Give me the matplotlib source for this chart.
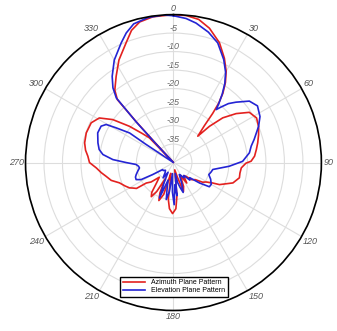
import numpy as np
import matplotlib.pyplot as plt

plt.rcParams['font.family'] = ['Liberation Sans', 'DejaVu Sans']

# Azimuth plane pattern (angle in degrees, gain in dB)
az_deg = [0, 5, 10, 15, 21, 26, 30, 33, 35.5, 37.3, 38.6, 40, 42.7, 44.8, 47.8, 52, 56.5,
          61.8, 67, 72, 76.8, 81, 85.5, 89, 90.5, 94.5, 99, 103, 108.9, 115.6, 118,
          121, 124, 128, 133, 138, 142, 147, 152, 157, 161, 165, 170, 174, 177, 181,
          185, 188, 191, 194, 197, 201, 204, 207, 210, 213, 216, 220, 224, 229, 233,
          235, 238, 240, 244, 249.4, 254, 258.5, 262, 266, 270, 274.2, 278, 282.5,
          288.8, 295.8, 301, 305.3, 309.5, 313, 315.8, 316.8, 317.2, 317.6, 318.3,
          321, 326.4, 332, 338.4, 342.4, 346.5, 352, 360]
az_db = [0, -0.1, -0.7, -2.4, -5.3, -8.6, -11.5, -14.2, -17, -19.8, -23, -27, -30.3,
         -26.2, -22, -18.5, -15.4, -14.5, -15, -15.8, -16.6, -17.3, -18, -19, -20.4,
         -21.6, -21.8, -21.7, -23, -26.2, -28.4, -29.8, -30.5, -32.5, -33.2, -35,
         -35.5, -33.4, -36, -33, -31.7, -36, -38, -31, -27.5, -26.2, -27.5, -30, -36,
         -37, -31, -29, -31, -35, -31, -29, -30, -33, -34.5, -32, -30.8, -27.8, -27,
         -26.3, -25.5, -24.4, -22.5, -21.4, -20.3, -19.1, -17.3, -16.8, -16, -15.4,
         -15.1, -15.3, -16.6, -19.9, -24.6, -28.5, -30.7, -40, -33, -25.3, -17.2,
         -14.8, -12, -8.6, -5.2, -2.5, -0.9, -0.2, 0]

# Elevation plane pattern
el_deg = [0, 5, 9.2, 15, 20.3, 26, 30, 33, 35.5, 37.5, 38.9, 40.5, 43, 46, 51, 56, 62, 67, 74,
          78, 82.7, 89, 93.8, 100, 104, 108.8, 114, 120, 124, 128, 133, 137, 141,
          146, 150, 154, 158, 162, 165, 168, 171, 174, 176.5, 179, 182, 185, 188,
          191, 194, 197, 201.6, 205, 209, 214, 220, 226, 232, 237, 240, 242.2,
          245.5, 249, 252, 256, 261, 264, 267, 270, 272.8, 276.5, 280, 284.6, 291.4,
          296.7, 299.5, 301.2, 304, 303.5, 303.5, 316.5, 317, 317.5, 318.5, 321,
          324.6, 330, 336.4, 340, 344, 350, 356, 360]
el_db = [-0.3, -0.9, -1.8, -3.5, -5.5, -9, -11.8, -14.5, -17.3, -19.8, -21.6, -20.3, -18.2,
         -16.5, -13.6, -12.6, -13.5, -15, -17.3, -18.5, -19.3, -21.3, -24.9, -29.2, -29.5,
         -29.9, -29, -28.2, -28.3, -31, -34, -33.5, -35.5, -35, -36, -36.4, -34,
         -31.5, -33, -34.4, -37, -31, -34, -28.6, -32, -37, -32, -29.8, -33, -35,
         -29.7, -34, -37, -35, -36.5, -37, -36.5, -36.5, -33.5, -30.1, -28.9, -29,
         -29.4, -30, -30.7, -30.5, -29.9, -27.2, -23.6, -20.8, -19.6, -18.9, -18,
         -18.1, -19.1, -21.9, -25.7, -31, -40, -40, -33, -25, -16.7, -14, -11.4, -8,
         -4.7, -2.7, -1.0, -0.2, 0, -0.3]

theta_ticks = list(range(0, 360, 30))
r_ticks = [-35, -30, -25, -20, -15, -10, -5, 0]

fig = plt.figure(figsize=(3.37, 3.31), dpi=100)
ax = fig.add_axes([0.0757, 0.0619, 0.878, 0.894], projection='polar')
ax.set_theta_zero_location('N')
ax.set_theta_direction(-1)

ax.plot(np.deg2rad(az_deg), az_db, color='#e3211f', lw=1.2, label='Azimuth Plane Pattern')
ax.plot(np.deg2rad(el_deg), el_db, color='#2424d4', lw=1.2, label='Elevation Plane Pattern')

ax.set_ylim(-40, 0)
ax.set_xticks(np.deg2rad(theta_ticks))
ax.set_xticklabels([])
ax.set_yticks(r_ticks)
ax.set_yticklabels([])

# angle labels just outside the rim
for t in theta_ticks:
    s, c = np.sin(np.deg2rad(t)), np.cos(np.deg2rad(t))
    ha = 'left' if s > 0.1 else ('right' if s < -0.1 else 'center')
    va = 'bottom' if c > 0.1 else ('top' if c < -0.1 else 'center')
    ax.text(np.deg2rad(t), 0.5, str(t), fontsize=6.5, style='italic', color='#555555',
            ha=ha, va=va, clip_on=False)

# dB labels along the 0 degree spoke
for r in r_ticks[:-1]:
    ax.text(0, r + 1.3, str(r), fontsize=6.5, style='italic', color='#666666',
            ha='center', va='center')

ax.grid(color='#dddddd', lw=0.8)
ax.spines['polar'].set_color('black')
ax.spines['polar'].set_linewidth(1.2)

leg = fig.legend(loc='center', bbox_to_anchor=(0.516, 0.133), fontsize=5,
                 frameon=True, fancybox=False, edgecolor='black', framealpha=1,
                 handlelength=3.2, borderpad=0.4, labelspacing=0.15)
leg.get_frame().set_linewidth(1.0)

fig.savefig('out.png', dpi=100)
